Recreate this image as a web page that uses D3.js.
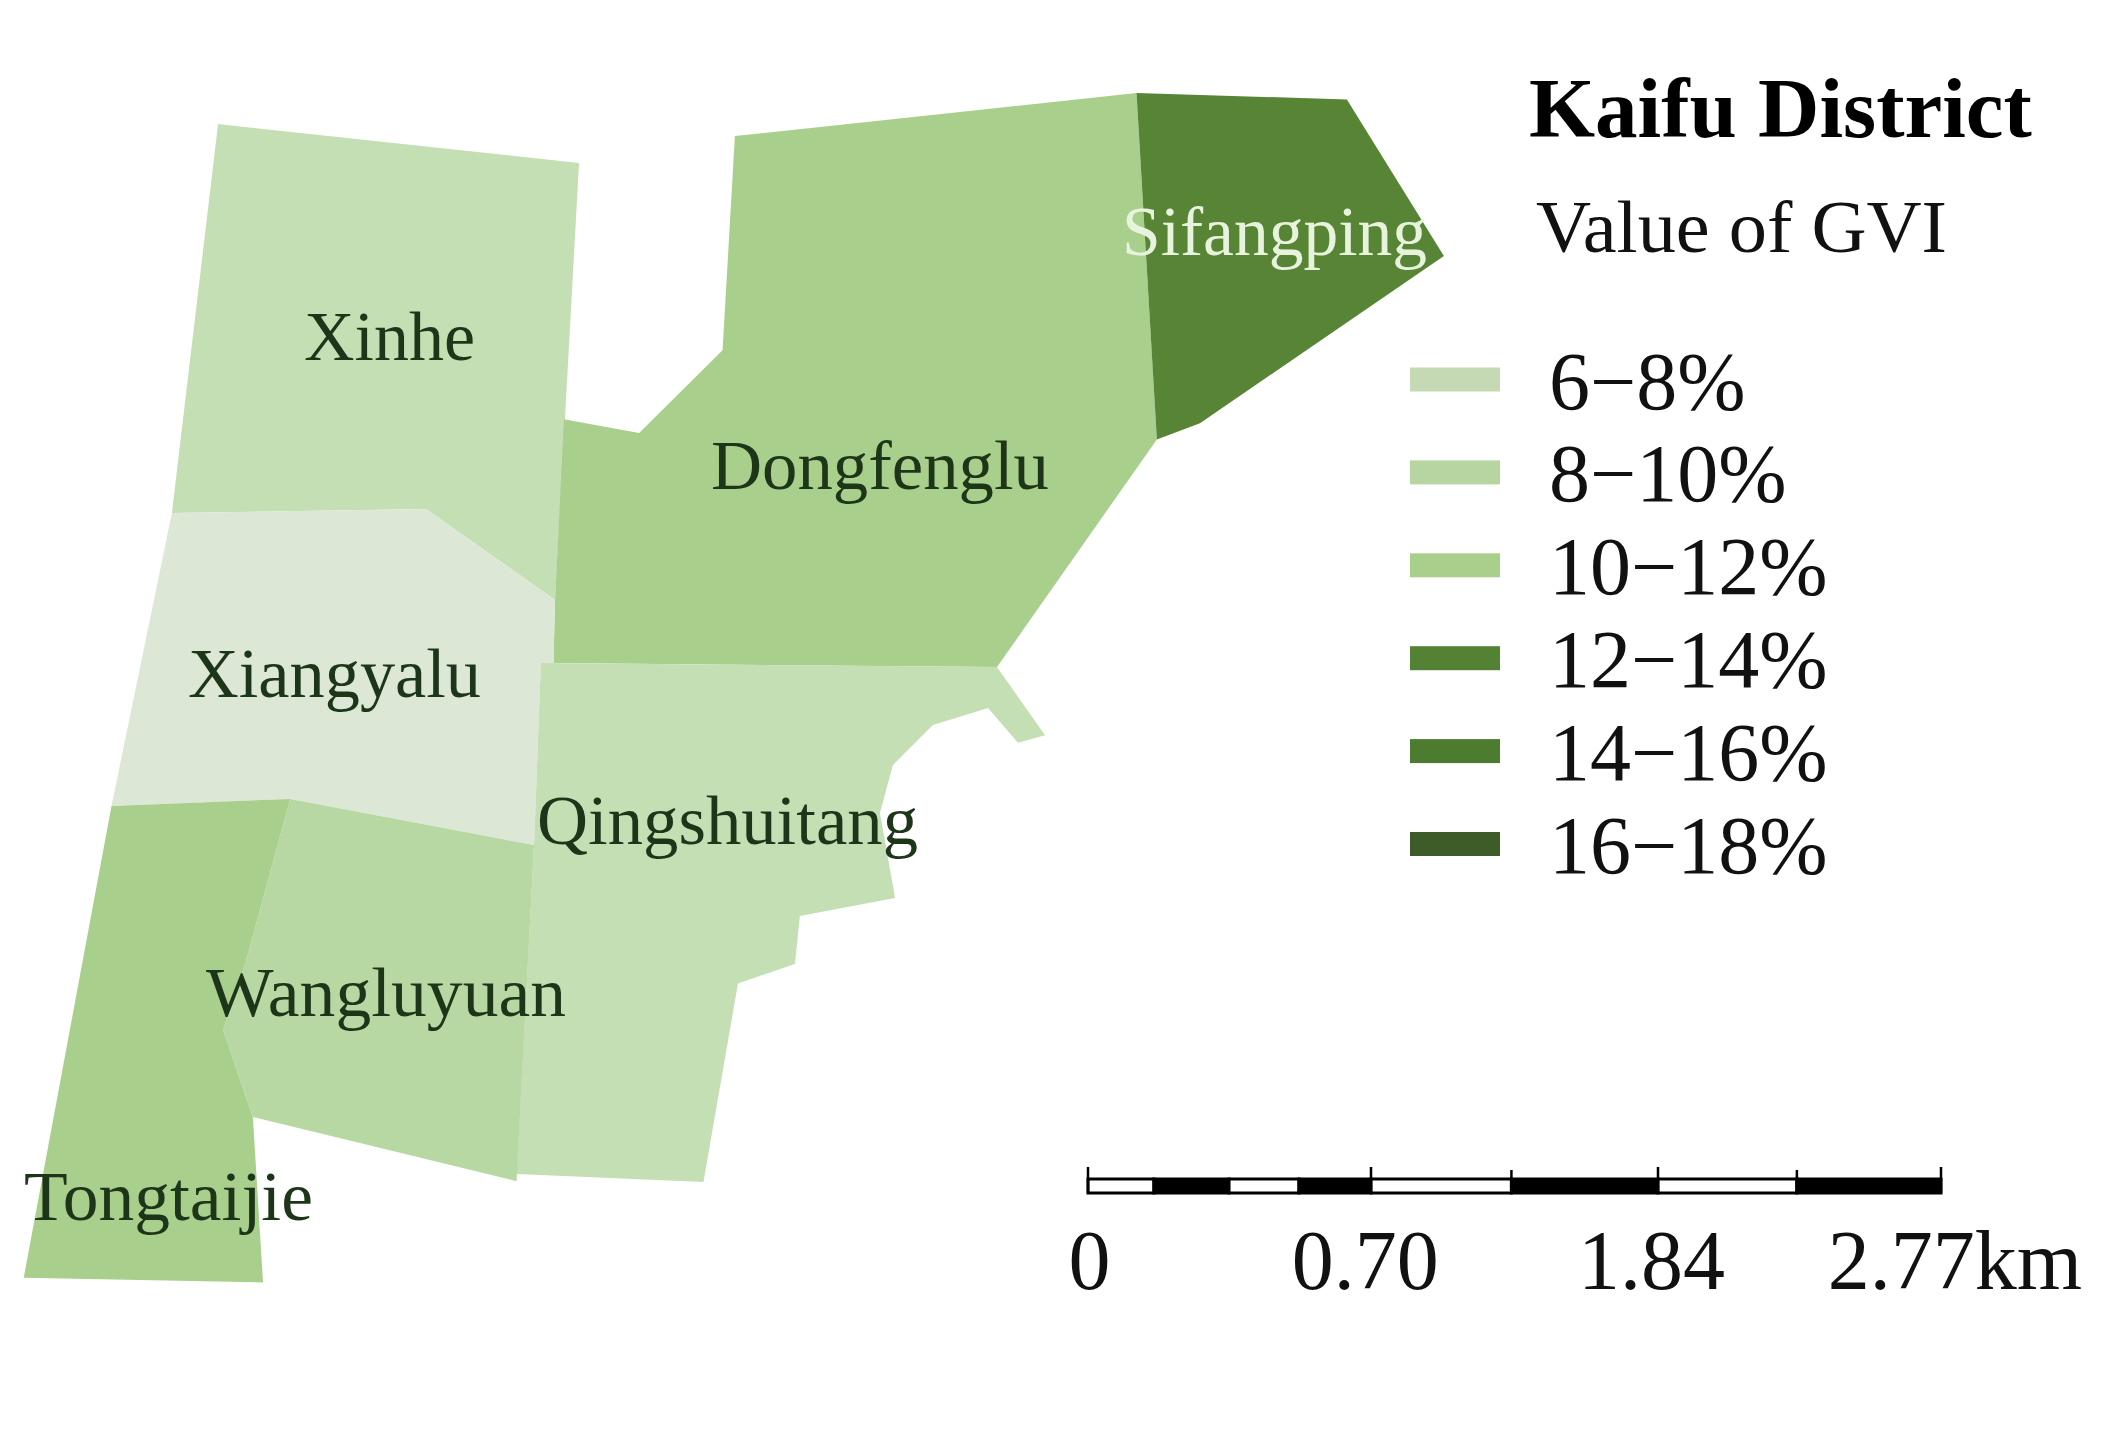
<!DOCTYPE html>
<html>
  <head>
    <meta charset="utf-8">
    <script src="https://d3js.org/d3.v7.min.js"></script>
    <style>
      html, body { margin: 0; padding: 0; background: #fff; }
      text { font-family: "Liberation Serif", "Times New Roman", serif; }
    </style>
  </head>
<body>
  <script type="text/javascript">

  // District outlines, in km on the map (x east, y north)
  var xinhe = [[0.708,4.240],[1.880,4.114],[1.802,2.695],[1.383,2.990],[0.558,2.977]];
  var dongfenglu = [[2.386,4.201],[3.690,4.341],[3.756,3.216],[3.237,2.477],[1.797,2.490],
                    [1.802,2.695],[1.831,3.282],[2.075,3.237],[2.346,3.506]];
  var sifangping = [[3.690,4.341],[4.373,4.320],[4.688,3.812],[3.896,3.269],[3.756,3.216]];
  var xiangyalu = [[0.558,2.977],[1.383,2.990],[1.802,2.695],[1.797,2.490],[1.756,2.490],[1.734,1.899],
                   [0.942,2.049],[0.362,2.026]];
  var tongtaijie = [[0.362,2.026],[0.942,2.049],[0.797,1.516],[0.724,1.299],[0.821,1.016],
                    [0.854,0.479],[0.077,0.494]];
  var wangluyuan = [[0.942,2.049],[1.734,1.899],[1.677,0.808],[0.821,1.016],[0.724,1.299],[0.797,1.516]];
  var qingshuitang = [[1.756,2.490],[3.237,2.477],[3.393,2.256],[3.305,2.231],[3.208,2.344],
                      [3.029,2.289],[2.899,2.159],[2.857,2.003],[2.906,1.727],[2.597,1.669],
                      [2.581,1.513],[2.396,1.450],[2.284,0.805],[1.677,0.831],[1.734,1.899]];

  var districtNames = ["Xinhe","Dongfenglu","Sifangping","Xiangyalu","Qingshuitang","Wangluyuan","Tongtaijie"];
  var districtShapes = [xinhe,dongfenglu,sifangping,xiangyalu,qingshuitang,wangluyuan,tongtaijie];
  var districtColors = ["#c5dfb5","#a9cf8c","#578535","#dce8d5","#c4dfb3","#b8d8a3","#a9cf8c"];

  // Legend
  var legendLabels = ["6\u22128%","8\u221210%","10\u221212%","12\u221214%","14\u221216%","16\u221218%"];
  var legendColors = ["#c4d9b4","#b6d5a0","#a9cf8c","#548235","#4d7c30","#3d5c27"];

  // Scale bar, km along the bar
  var barEdges = [0,0.214,0.458,0.685,0.919,1.375,1.851,2.302,2.77];
  var barTicks = [0,0.919,1.375,1.851,2.302,2.77];
  var barLabels = ["0","0.70","1.84","2.77km"];
  var barLabelKm = [0.005,0.90,1.83,2.815];

  // Creating the svg object
  var width = 2127, height = 1430, pxPerKm = 308;

  var svg = d3.select("body")
    .append("svg")
      .attr("width", width)
      .attr("height", height)
      .style("display", "block");

  var x = d3.scaleLinear().domain([0, width / pxPerKm]).range([0, width]);
  var y = d3.scaleLinear().domain([0, height / pxPerKm]).range([height, 0]);

  var outline = d3.line()
    .x(function(d) { return x(d[0]); })
    .y(function(d) { return y(d[1]); })
    .curve(d3.curveLinearClosed);

  // Drawing the districts
  svg.selectAll("path.district")
    .data(districtShapes)
    .enter().append("path")
      .attr("class", "district")
      .attr("d", outline)
      .attr("fill", function(d, i) { return districtColors[i]; });

  // District names (label start, baseline and length in screen px)
  var labelX = [304,711,1122,188,537,206,24];
  var labelY = [360,489,255,697,844,1016,1220];
  var labelLen = [171,338,305,293,381,360,289];
  svg.selectAll("text.name")
    .data(districtNames)
    .enter().append("text")
      .attr("class", "name")
      .attr("x", function(d, i) { return labelX[i]; })
      .attr("y", function(d, i) { return labelY[i]; })
      .attr("font-size", 70)
      .attr("textLength", function(d, i) { return labelLen[i]; })
      .attr("lengthAdjust", "spacingAndGlyphs")
      .attr("fill", function(d) { return d === "Sifangping" ? "#e8f3dd" : "#1d3518"; })
      .text(function(d) { return d; });

  // Title block
  svg.append("text")
    .attr("x", 1529).attr("y", 137)
    .attr("font-size", 85).attr("font-weight", "bold").attr("fill", "#000")
    .text("Kaifu District");
  svg.append("text")
    .attr("x", 1536).attr("y", 252)
    .attr("font-size", 74.5).attr("fill", "#111")
    .attr("textLength", 411)
    .attr("lengthAdjust", "spacingAndGlyphs")
    .text("Value of GVI");

  // Legend
  var legendY = d3.scalePoint().domain(legendLabels).range([379.5, 844]);

  svg.selectAll("rect.swatch")
    .data(legendLabels)
    .enter().append("rect")
      .attr("class", "swatch")
      .attr("x", 1410)
      .attr("y", function(d) { return legendY(d) - 12; })
      .attr("width", 90)
      .attr("height", 24)
      .attr("fill", function(d, i) { return legendColors[i]; });

  svg.selectAll("text.legend")
    .data(legendLabels)
    .enter().append("text")
      .attr("class", "legend")
      .attr("x", 1549)
      .attr("y", function(d) { return legendY(d) + 29; })
      .attr("font-size", 82)
      .attr("fill", "#111")
      .text(function(d) { return d; });

  // Scale bar
  var bar = d3.scaleLinear().domain([0, 2.77]).range([1088, 1941]);

  svg.selectAll("rect.cell")
    .data(d3.pairs(barEdges))
    .enter().append("rect")
      .attr("class", "cell")
      .attr("x", function(d) { return bar(d[0]); })
      .attr("y", 1179)
      .attr("width", function(d) { return bar(d[1]) - bar(d[0]); })
      .attr("height", 14)
      .attr("fill", function(d, i) { return i % 2 ? "#000" : "#fff"; })
      .attr("stroke", "#000")
      .attr("stroke-width", 3);

  svg.selectAll("line.tick")
    .data(barTicks)
    .enter().append("line")
      .attr("class", "tick")
      .attr("x1", function(d) { return bar(d); })
      .attr("x2", function(d) { return bar(d); })
      .attr("y1", function(d) { return d === 1.375 || d === 2.302 ? 1170 : 1167; })
      .attr("y2", 1193)
      .attr("stroke", "#000")
      .attr("stroke-width", 2.5);

  svg.selectAll("text.barlabel")
    .data(barLabels)
    .enter().append("text")
      .attr("class", "barlabel")
      .attr("x", function(d, i) { return bar(barLabelKm[i]); })
      .attr("y", 1289)
      .attr("text-anchor", "middle")
      .attr("font-size", 84)
      .attr("fill", "#111")
      .text(function(d) { return d; });

  </script>
</body>
</html>
